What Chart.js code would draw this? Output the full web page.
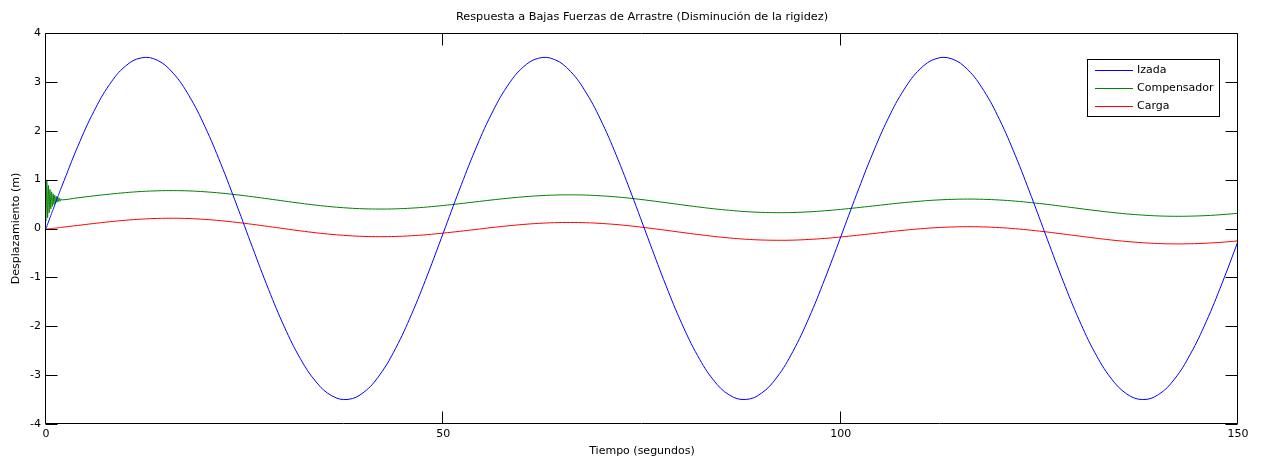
<!DOCTYPE html>
<html>
<head>
<meta charset="utf-8">
<script src="https://cdn.jsdelivr.net/npm/chart.js@4.4.1/dist/chart.umd.min.js"></script>
<style>
  html, body { margin: 0; padding: 0; background: #ffffff; }
  #wrap { width: 1262px; height: 459px; }
</style>
</head>
<body>
<div id="wrap"><canvas id="c" width="1262" height="459"></canvas></div>
<script>
// Time base (s): fine sampling during the start-up transient, then every 2 s
const time = [
  0, 0.1, 0.2, 0.3, 0.4, 0.5, 0.6, 0.7, 0.8, 0.9, 1, 1.1, 1.2, 1.3, 1.4, 1.5, 1.6, 1.7, 1.8, 1.9, 2,
  4, 6, 8, 10, 12, 14, 16, 18, 20, 22, 24, 26, 28, 30, 32, 34, 36, 38, 40, 42, 44, 46, 48, 50,
  52, 54, 56, 58, 60, 62, 64, 66, 68, 70, 72, 74, 76, 78, 80, 82, 84, 86, 88, 90, 92, 94, 96, 98, 100,
  102, 104, 106, 108, 110, 112, 114, 116, 118, 120, 122, 124, 126, 128, 130, 132, 134, 136, 138, 140,
  142, 144, 146, 148, 150
];

// Hoist displacement (m)
const izada = [
  0, 0.044, 0.088, 0.131, 0.175, 0.219, 0.262, 0.306, 0.350, 0.393, 0.437, 0.480, 0.524, 0.567, 0.611,
  0.654, 0.697, 0.740, 0.783, 0.826, 0.867,
  1.680, 2.388, 2.948, 3.323, 3.492, 3.443, 3.179, 2.716, 2.086, 1.324, 0.480, -0.393, -1.243, -2.015,
  -2.661, -3.141, -3.426, -3.497, -3.350, -2.994, -2.451, -1.756, -0.952, -0.087,
  0.782, 1.603, 2.323, 2.900, 3.295, 3.485, 3.457, 3.214, 2.771, 2.155, 1.405, 0.567, -0.306, -1.161,
  -1.942, -2.602, -3.102, -3.407, -3.499, -3.374, -3.039, -2.512, -1.832, -1.035, -0.175,
  0.696, 1.524, 2.258, 2.849, 3.264, 3.475, 3.470, 3.248, 2.824, 2.225, 1.485, 0.653, -0.219, -1.078,
  -1.868, -2.543, -3.059, -3.385, -3.500, -3.397, -3.083, -2.572, -1.906, -1.119, -0.262
];

// Compensator displacement (m)
const compensador = [
  0.15, 0.99, 0.22, 0.88, 0.32, 0.80, 0.40, 0.75, 0.45, 0.71, 0.49, 0.68, 0.52, 0.66, 0.54, 0.64,
  0.55, 0.62, 0.56, 0.605, 0.585,
  0.628, 0.667, 0.703, 0.734, 0.757, 0.771, 0.775, 0.769, 0.751, 0.725, 0.690, 0.650, 0.606, 0.561,
  0.517, 0.477, 0.444, 0.419, 0.403, 0.398, 0.402, 0.417, 0.440, 0.471,
  0.506, 0.544, 0.582, 0.617, 0.647, 0.670, 0.684, 0.688, 0.683, 0.667, 0.643, 0.610, 0.571, 0.529,
  0.485, 0.443, 0.404, 0.372, 0.346, 0.330, 0.324, 0.327, 0.341, 0.362, 0.391,
  0.424, 0.460, 0.496, 0.530, 0.559, 0.582, 0.596, 0.602, 0.597, 0.583, 0.560, 0.529, 0.493, 0.452,
  0.410, 0.369, 0.331, 0.299, 0.274, 0.257, 0.250, 0.253, 0.264, 0.284, 0.311
];

// Load displacement (m)
const carga = [
  -0.013, -0.011, -0.009, -0.007, -0.006, -0.004, -0.002, 0.000, 0.002, 0.004, 0.006, 0.007, 0.009,
  0.011, 0.013, 0.015, 0.017, 0.018, 0.020, 0.022, 0.024,
  0.063, 0.102, 0.138, 0.169, 0.192, 0.206, 0.210, 0.204, 0.186, 0.160, 0.125, 0.085, 0.041, -0.004,
  -0.048, -0.088, -0.121, -0.146, -0.162, -0.167, -0.163, -0.148, -0.125, -0.094,
  -0.059, -0.021, 0.017, 0.052, 0.082, 0.105, 0.119, 0.123, 0.118, 0.102, 0.078, 0.045, 0.006, -0.036,
  -0.080, -0.122, -0.161, -0.193, -0.219, -0.235, -0.241, -0.238, -0.224, -0.203, -0.174,
  -0.141, -0.105, -0.069, -0.035, -0.006, 0.017, 0.031, 0.037, 0.032, 0.018, -0.005, -0.036, -0.072,
  -0.113, -0.155, -0.196, -0.234, -0.266, -0.291, -0.308, -0.315, -0.312, -0.301, -0.281, -0.254
];

const xTicks = [0, 50, 100, 150];
const yTicks = [-4, -3, -2, -1, 0, 1, 2, 3, 4];
const seriesNames = ['Izada', 'Compensador', 'Carga'];
const seriesColors = ['#0000ff', '#008000', '#ff0000'];

const FONT = 'DejaVu Sans';
const toPoints = (ys) => time.map((t, i) => ({ x: t, y: ys[i] }));

// Box, inward tick marks and the in-axes legend
const framePlugin = {
  id: 'frame',
  afterDraw(chart) {
    const ctx = chart.ctx;
    const { left, right, top, bottom } = chart.chartArea;
    const xs = chart.scales.x, ys = chart.scales.y;
    const L = Math.round(left) - 0.5, R = Math.round(right) - 0.5;
    const T = Math.round(top) + 0.5, B = Math.round(bottom) - 0.5;
    const tick = 12;
    ctx.save();
    ctx.strokeStyle = '#000';
    ctx.lineWidth = 1;
    ctx.beginPath();
    ctx.rect(L, T, R - L, B - T);
    yTicks.forEach(v => {
      const py = Math.round(ys.getPixelForValue(v)) + 0.5;
      ctx.moveTo(L, py); ctx.lineTo(L + tick, py);
      ctx.moveTo(R, py); ctx.lineTo(R - tick, py);
    });
    xTicks.forEach(v => {
      const px = Math.round(xs.getPixelForValue(v)) - 0.5;
      ctx.moveTo(px, B); ctx.lineTo(px, B - tick);
      ctx.moveTo(px, T); ctx.lineTo(px, T + tick);
    });
    ctx.stroke();

    // legend
    const bx = 1087.5, by = 59.5, bw = 132, bh = 57;
    ctx.fillStyle = '#fff';
    ctx.fillRect(bx, by, bw, bh);
    ctx.strokeRect(bx, by, bw, bh);
    ctx.font = '11px "' + FONT + '"';
    ctx.textBaseline = 'middle';
    ctx.textAlign = 'left';
    chart.data.datasets.forEach((ds, i) => {
      const ly = 70.5 + i * 18;
      ctx.strokeStyle = ds.borderColor;
      ctx.beginPath();
      ctx.moveTo(1095, ly); ctx.lineTo(1133, ly);
      ctx.stroke();
      ctx.fillStyle = '#000';
      ctx.fillText(ds.label, 1137, ly);
    });
    ctx.restore();
  }
};

new Chart(document.getElementById('c'), {
  type: 'line',
  data: {
    datasets: [izada, compensador, carga].map((ys, i) => ({
      label: seriesNames[i],
      data: toPoints(ys),
      borderColor: seriesColors[i],
      backgroundColor: seriesColors[i],
      borderWidth: 1,
      pointRadius: 0,
      fill: false,
      tension: 0.4
    }))
  },
  options: {
    responsive: false,
    animation: false,
    devicePixelRatio: 1,
    layout: { padding: { left: 0, right: 24, top: 0, bottom: 0 } },
    plugins: {
      legend: { display: false },
      tooltip: { enabled: false },
      title: {
        display: true,
        fullSize: false,
        text: 'Respuesta a Bajas Fuerzas de Arrastre (Disminución de la rigidez)',
        color: '#000',
        font: { family: FONT, size: 11.3, weight: 'normal', lineHeight: '13px' },
        padding: { top: 11, bottom: 9 }
      }
    },
    scales: {
      x: {
        type: 'linear',
        min: 0, max: 150,
        grid: { display: false, drawTicks: false },
        border: { display: false },
        afterBuildTicks: (s) => { s.ticks = xTicks.map(v => ({ value: v })); },
        afterFit: (s) => { s.height = 35; },
        ticks: {
          color: '#000', padding: 4, maxRotation: 0,
          font: { family: FONT, size: 11 },
          callback: (v) => String(v)
        },
        title: {
          display: true, text: 'Tiempo (segundos)', color: '#000',
          font: { family: FONT, size: 11 },
          padding: { top: 0, bottom: 1 }
        }
      },
      y: {
        type: 'linear',
        min: -4, max: 4,
        grid: { display: false, drawTicks: false },
        border: { display: false },
        afterBuildTicks: (s) => { s.ticks = yTicks.map(v => ({ value: v })); },
        afterFit: (s) => { s.width = 46; },
        ticks: {
          color: '#000', padding: 5,
          font: { family: FONT, size: 11 },
          callback: (v) => String(v)
        },
        title: {
          display: true, text: 'Desplazamiento (m)', color: '#000',
          font: { family: FONT, size: 11 },
          padding: { top: 10, bottom: 0 }
        }
      }
    }
  },
  plugins: [framePlugin]
});
</script>
</body>
</html>
